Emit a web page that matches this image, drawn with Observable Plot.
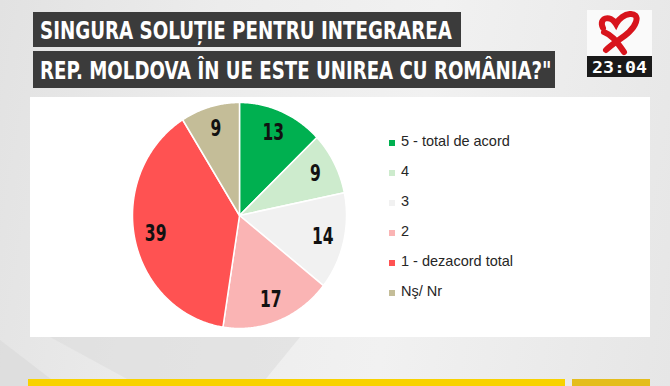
<!DOCTYPE html>
<html><head><meta charset="utf-8">
<script src="https://cdn.jsdelivr.net/npm/d3@7"></script>
<script src="https://cdn.jsdelivr.net/npm/@observablehq/plot@0.6"></script>
<style>
html,body{margin:0;padding:0;}
body{width:670px;height:386px;overflow:hidden;position:relative;
 background:linear-gradient(100deg,#e2e2e2 0%,#ececec 30%,#f1f1f1 60%,#e6e6e6 100%);font-family:"Liberation Sans",sans-serif;}
#bg{position:absolute;left:0;top:0;}
#titles{position:absolute;left:0;top:0;}
#panel{position:absolute;left:30px;top:97px;width:620px;height:240px;background:#fff;}
#legend{position:absolute;left:389px;top:133px;font-family:"Liberation Sans","Open Sans",sans-serif;font-size:14.5px;color:#262626;}
#legend div{height:30px;display:flex;align-items:flex-start;}
#legend span.sw{display:inline-block;width:6px;height:6px;margin-right:6px;margin-top:7px;}
.bar1{position:absolute;left:28px;top:379px;width:537px;height:7px;background:#f8d200;}
.bar2{position:absolute;left:572px;top:379px;width:78px;height:7px;background:#e4bd1c;}
</style></head>
<body>
<svg id="bg" width="670" height="386">
 <polygon points="50,337 300,337 260,386 140,386" fill="#dcdcdc" opacity="0.6"/>
 <polygon points="0,340 60,386 0,386" fill="#d8d8d8" opacity="0.6"/>
</svg>
<svg id="titles" width="670" height="100">
 <rect x="33" y="12" width="428" height="35" fill="#3b3b3b"/>
 <rect x="33" y="51" width="522" height="37" fill="#3b3b3b"/>
 <text class="tt" data-x="40" data-y="39" data-w="412" fill="#fff" font-family="DejaVu Sans Condensed, DejaVu Sans, sans-serif" font-weight="bold" font-size="25">SINGURA SOLUȚIE PENTRU INTEGRAREA</text>
 <text class="tt" data-x="40" data-y="79" data-w="512" fill="#fff" font-family="DejaVu Sans Condensed, DejaVu Sans, sans-serif" font-weight="bold" font-size="25">REP. MOLDOVA ÎN UE ESTE UNIREA CU ROMÂNIA?"</text>
 <rect x="587" y="10" width="65" height="46" fill="#fafafa"/>
 <path d="M603 28 C598 18 610 14 616 24 C622 12 640 10 636 22 C632 34 616 40 606 50 M604 32 C614 36 618 44 624 52" stroke="#d8141c" stroke-width="6" fill="none" stroke-linecap="round"/>
 <rect x="587" y="56" width="65" height="21" fill="#1a1a1a"/>
 <text class="tt" data-x="592" data-y="72.5" data-w="55" fill="#fff" font-family="DejaVu Sans Mono, monospace" font-weight="bold" font-size="15">23:04</text>
</svg>
<div id="panel"></div>
<div id="legend"></div>
<div class="bar1"></div><div class="bar2"></div>
<script>
const categories = ["5 - total de acord","4","3","2","1 - dezacord total","Nş/ Nr"];
const values = [13, 9, 14, 17, 39, 9];
const colors = ["#00b050","#cdebcd","#f1f1f1","#fab4b4","#ff5252","#c4bd98"];

document.querySelectorAll("text.tt").forEach(t=>{
  const w = t.getComputedTextLength();
  const s = (+t.dataset.w)/w;
  t.setAttribute("transform", `translate(${t.dataset.x},${t.dataset.y}) scale(${s},1)`);
});

const pie = d3.pie().sort(null).value(d => d.value)(categories.map((c,i)=>({category:c,value:values[i]})));
const poly = [];
const labels = [];
pie.forEach((s,k)=>{
  const n = Math.max(4, Math.ceil((s.endAngle - s.startAngle) / 0.01));
  poly.push({category:s.data.category, x:0, y:0, k});
  for(let j=0;j<=n;j++){
    const a = s.startAngle + (s.endAngle - s.startAngle)*j/n;
    poly.push({category:s.data.category, x:Math.sin(a), y:Math.cos(a), k});
  }
  poly.push({category:s.data.category, x:0, y:0, k});
  const m = (s.startAngle + s.endAngle)/2;
  labels.push({x:0.8*Math.sin(m), y:0.8*Math.cos(m), text:String(s.data.value)});
});

const chart = Plot.plot({
  width:620, height:240,
  marginLeft:102, marginRight:304, marginTop:5, marginBottom:9,
  x:{domain:[-1,1], axis:null},
  y:{domain:[-1,1], axis:null},
  color:{domain:categories, range:colors},
  style:{background:"transparent", overflow:"visible"},
  marks:[
    Plot.line(poly, {x:"x", y:"y", z:"category", fill:"category", stroke:"#fff", strokeWidth:1.5, curve:"linear"}),
    Plot.text(labels, {x:"x", y:"y", text:"text", fontSize:23, fontWeight:"bold", fill:"#111",
      fontFamily:"DejaVu Sans Condensed, sans-serif"})
  ]
});
document.getElementById("panel").appendChild(chart);
d3.select(chart).selectAll("text").each(function(){
  const old = this.getAttribute("transform") || "";
  this.setAttribute("transform", `${old} scale(0.75,1)`);
});

const lg = document.getElementById("legend");
categories.forEach((c,i)=>{
  const d = document.createElement("div");
  d.innerHTML = `<span class="sw" style="background:${colors[i]}"></span><span>${c}</span>`;
  lg.appendChild(d);
});
</script>
</body></html>
